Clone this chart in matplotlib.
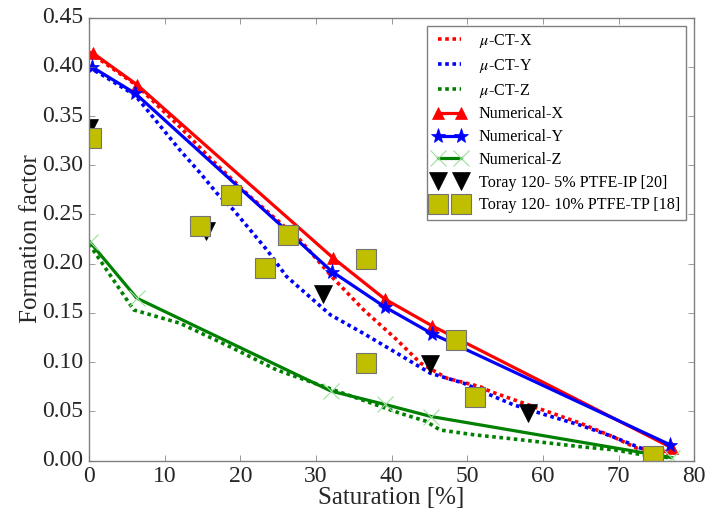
import matplotlib
matplotlib.use("Agg")
import matplotlib.pyplot as plt


# micro-CT formation factor curves
ct_x_sat = [0.0, 6.3, 12.0, 16.4, 21.3, 27.9, 32.3, 36.3, 40.7, 43.8, 47.3,
            51.7, 53.1, 60.5, 64.9, 69.3, 72.4, 76.4]
ct_x_ff = [0.415, 0.381, 0.339, 0.304, 0.268, 0.224, 0.185, 0.153, 0.1225,
           0.099, 0.0836, 0.075, 0.070, 0.050, 0.038, 0.024, 0.0126, 0.009]

ct_y_sat = [0.0, 6.1, 12.0, 14.7, 16.9, 19.1, 23.5, 26.1, 30.1, 31.9, 36.3,
            40.7, 45.1, 49.5, 52.6, 56.1, 60.5, 64.9, 69.3, 72.9, 76.4]
ct_y_ff = [0.400, 0.371, 0.3155, 0.292, 0.2715, 0.2545, 0.214, 0.187, 0.160,
           0.148, 0.129, 0.109, 0.0887, 0.0786, 0.068, 0.0566, 0.046, 0.036,
           0.024, 0.0126, 0.011]

ct_z_sat = [0.0, 5.9, 12.0, 18.6, 24.8, 32.3, 41.1, 44.5, 46.4, 51.0, 56.0,
            60.5, 65.0, 69.3, 73.0, 76.5]
ct_z_ff = [0.220, 0.153, 0.1395, 0.1157, 0.092, 0.0718, 0.048, 0.040, 0.031,
           0.026, 0.022, 0.018, 0.014, 0.011, 0.006, 0.003]

# numerical results
num_x_sat = [0.5, 6.3, 32.3, 39.1, 45.3, 77.1]
num_x_ff = [0.414, 0.382, 0.2055, 0.164, 0.137, 0.0126]

num_y_sat = [0.35, 6.1, 32.1, 39.1, 45.3, 76.8]
num_y_ff = [0.400, 0.373, 0.192, 0.156, 0.129, 0.016]

num_z_sat = [0.1, 6.3, 32.0, 39.1, 45.2, 77.0]
num_z_ff = [0.222, 0.165, 0.0705, 0.057, 0.0447, 0.003]

# experimental data from literature
ip_sat = [0.0, 15.5, 30.9, 45.1, 58.0]
ip_ff = [0.338, 0.233, 0.169, 0.098, 0.048]

tp_sat = [0.2, 14.6, 18.7, 23.3, 26.3, 36.6, 36.6, 48.5, 51.0, 74.5]
tp_ff = [0.328, 0.238, 0.270, 0.196, 0.229, 0.205, 0.099, 0.122, 0.065, 0.005]

x_ticks = [0, 10, 20, 30, 40, 50, 60, 70, 80]
y_ticks = [0.00, 0.05, 0.10, 0.15, 0.20, 0.25, 0.30, 0.35, 0.40, 0.45]


def setup_style():
    plt.style.use("classic")
    plt.rcParams["figure.facecolor"] = "white"
    plt.rcParams["savefig.facecolor"] = "white"
    plt.rcParams["font.family"] = "serif"
    plt.rcParams["font.serif"] = ["Liberation Serif", "DejaVu Serif"]
    plt.rcParams["mathtext.fontset"] = "stix"
    plt.rcParams["lines.scale_dashes"] = True


def plot_formation_factor():
    fig = plt.figure(figsize=(7.07, 5.18), dpi=100)
    ax = fig.add_axes([0.126, 0.111, 0.856, 0.855])

    dotted = (0, (1, 1))
    ax.plot(ct_x_sat, ct_x_ff, color="r", linestyle=dotted, linewidth=2.6,
            label=r"$\mu$-CT-X")
    ax.plot(ct_y_sat, ct_y_ff, color="b", linestyle=dotted, linewidth=2.6,
            label=r"$\mu$-CT-Y")
    ax.plot(ct_z_sat, ct_z_ff, color="g", linestyle=dotted, linewidth=2.6,
            label=r"$\mu$-CT-Z")

    ax.plot(num_x_sat, num_x_ff, color="r", linewidth=2.3, marker="^",
            markersize=9, markeredgecolor="r", label="Numerical-X")
    ax.plot(num_y_sat, num_y_ff, color="b", linewidth=2.3, marker="*",
            markersize=11, markeredgecolor="b", label="Numerical-Y")
    ax.plot(num_z_sat, num_z_ff, color="g", linewidth=2.3, marker="x",
            markersize=12, markeredgecolor="#9fe09f", markeredgewidth=0.8,
            label="Numerical-Z")

    ax.plot(ip_sat, ip_ff, linestyle="none", marker="v", markersize=13,
            color="k", label="Toray 120- 5% PTFE-IP [20]")
    ax.plot(tp_sat, tp_ff, linestyle="none", marker="s", markersize=14,
            color=(0.75, 0.75, 0), markeredgecolor="0.45",
            markeredgewidth=0.8, label="Toray 120- 10% PTFE-TP [18]")

    ax.set_xlim(0, 80)
    ax.set_ylim(0, 0.45)
    ax.set_xticks(x_ticks)
    ax.set_yticks(y_ticks)
    ax.set_yticklabels([f"{v:.2f}" for v in y_ticks])
    ax.tick_params(labelsize=17, direction="in", colors="0.45",
                   labelcolor="0.15")
    for spine in ax.spines.values():
        spine.set_color("0.5")

    ax.set_xlabel("Saturation [%]", fontsize=18, color="0.15", labelpad=0)
    ax.set_ylabel("Formation factor", fontsize=18, color="0.15", labelpad=0)

    leg = ax.legend(loc="upper right", fontsize=11.6, numpoints=2,
                    fancybox=False, handlelength=2.0, labelspacing=0.42)
    leg.get_frame().set_edgecolor("0.5")

    fig.savefig("out.png", dpi=100)
    plt.close(fig)


def main():
    setup_style()
    plot_formation_factor()


if __name__ == "__main__":
    main()
